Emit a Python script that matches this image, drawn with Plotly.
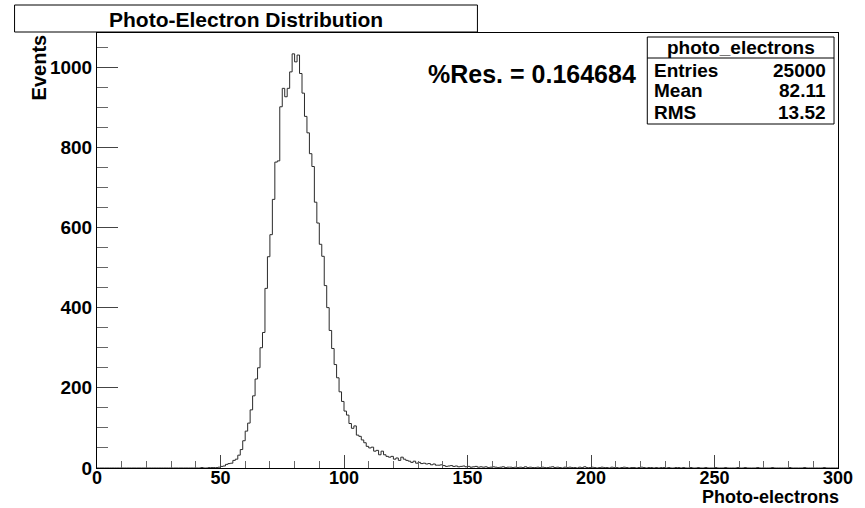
import numpy as np
import plotly.graph_objects as go

# ---- data (300 bins of width 1, from 0 to 300) ----
bin_lo = 0
bin_hi = 300
counts_000_049 = [
    0, 0, 0, 0, 0, 0, 0, 0, 0, 0,
    0, 0, 0, 0, 0, 0, 0, 0, 0, 0,
    0, 0, 0, 0, 0, 0, 0, 0, 0, 0,
    0, 0, 0, 0, 0, 0, 0, 0, 0, 0,
    0, 0, 1, 0, 0, 1, 1, 1, 1, 2,
]
counts_050_099 = [
    4, 5, 9, 11, 12, 19, 22, 32, 46, 68,
    92, 112, 145, 180, 222, 250, 300, 338, 448, 527,
    582, 670, 763, 766, 901, 947, 926, 947, 988, 1033,
    1013, 1030, 984, 935, 877, 836, 784, 752, 663, 611,
    558, 528, 455, 400, 343, 298, 258, 225, 190, 166,
]
counts_100_149 = [
    142, 132, 111, 99, 105, 82, 79, 70, 63, 54,
    50, 52, 42, 44, 33, 42, 33, 29, 27, 29,
    22, 25, 19, 27, 22, 19, 17, 14, 17, 12,
    14, 11, 12, 10, 11, 8, 10, 7, 7, 8,
    6, 4, 5, 6, 4, 5, 3, 4, 5, 3,
]
counts_150_199 = [
    4, 2, 3, 4, 2, 3, 2, 3, 1, 2,
    3, 2, 1, 2, 3, 1, 2, 2, 1, 2,
    1, 2, 1, 3, 1, 2, 1, 1, 2, 1,
    2, 1, 1, 2, 3, 1, 2, 1, 0, 2,
    1, 2, 1, 1, 0, 2, 1, 3, 1, 1,
]
counts_200_249 = [
    2, 1, 0, 1, 2, 1, 1, 0, 2, 1,
    1, 0, 1, 2, 1, 0, 1, 1, 0, 1,
    2, 1, 0, 1, 1, 0, 1, 0, 1, 1,
    0, 1, 0, 0, 1, 1, 0, 1, 0, 0,
    1, 0, 0, 1, 0, 0, 1, 0, 0, 0,
]
counts_250_299 = [
    1, 0, 0, 0, 1, 0, 0, 0, 0, 1,
    0, 0, 1, 0, 0, 0, 0, 1, 0, 0,
    0, 0, 0, 1, 0, 0, 0, 0, 0, 0,
    1, 0, 0, 0, 0, 0, 1, 0, 0, 0,
    0, 0, 0, 0, 1, 0, 0, 0, 0, 0,
]
x_ticks = [0, 50, 100, 150, 200, 250, 300]
y_ticks = [0, 200, 400, 600, 800, 1000]
stats_name = "photo_electrons"
stats_rows = [("Entries", "25000"), ("Mean", "82.11"), ("RMS", "13.52")]
resolution_text = "%Res. = 0.164684"

counts = (counts_000_049 + counts_050_099 + counts_100_149 +
          counts_150_199 + counts_200_249 + counts_250_299)
edges = np.linspace(bin_lo, bin_hi, len(counts) + 1)
ys = counts + [counts[-1]]

# ---- layout geometry (pixels) ----
W, H = 865, 508
L, R, T, B = 97, 843, 33, 468


def px(x):
    return (x - L) / (R - L)


def py(y):
    return (B - y) / (B - T)


FONT = "Liberation Sans, Arial, Helvetica, sans-serif"

fig = go.Figure()
fig.add_trace(go.Scatter(
    x=edges, y=ys, mode="lines", line=dict(color="#2a2a2a", width=1, shape="hv"),
    hoverinfo="skip", showlegend=False))

fig.update_xaxes(
    range=[bin_lo, bin_hi], tickvals=x_ticks, ticks="inside", ticklen=13, tickwidth=1,
    tickcolor="#444", showline=True, linecolor="black", linewidth=1, mirror=True,
    showgrid=False, zeroline=False, ticklabelstandoff=-7,
    tickfont=dict(family=FONT, size=18, color="black", weight="bold"),
    minor=dict(ticks="inside", dtick=10, ticklen=7, tickcolor="#666", showgrid=False),
)
fig.update_yaxes(
    range=[0, 1085], tickvals=y_ticks, ticks="inside", ticklen=21, tickwidth=1,
    tickcolor="#444", showline=True, linecolor="black", linewidth=1, mirror=True,
    showgrid=False, zeroline=False,
    tickfont=dict(family=FONT, size=19, color="black", weight="bold"),
    minor=dict(ticks="inside", dtick=50, ticklen=11, tickcolor="#666", showgrid=False),
)

shapes = [
    # title box
    dict(type="rect", xref="paper", yref="paper", x0=px(14), x1=px(480), y0=py(32), y1=py(5),
         line=dict(color="black", width=1), fillcolor="white", layer="above"),
    # stats box
    dict(type="rect", xref="paper", yref="paper", x0=px(651), x1=px(839), y0=py(124), y1=py(37),
         line=dict(color="black", width=1), fillcolor="white", layer="above"),
    dict(type="line", xref="paper", yref="paper", x0=px(651), x1=px(839), y0=py(58), y1=py(58),
         line=dict(color="black", width=1), layer="above"),
]

ann = [
    dict(text="<b>Photo-Electron Distribution</b>", x=px(247), y=py(19),
         font=dict(family=FONT, size=21, color="black")),
    dict(text="<b>" + resolution_text + "</b>", x=px(535), y=py(74),
         font=dict(family=FONT, size=25, color="black")),
    dict(text="<b>Events</b>", x=px(39), y=py(32), yanchor="top", textangle=-90,
         font=dict(family=FONT, size=20, color="black")),
    dict(text="<b>Photo-electrons</b>", x=px(845), y=py(496.5), xanchor="right", borderpad=0,
         font=dict(family=FONT, size=18, color="black")),
    dict(text="<b>" + stats_name + "</b>", x=px(745), y=py(47),
         font=dict(family=FONT, size=19, color="black")),
]
row_y = [70, 91, 112.5]
for (lab, val), yy in zip(stats_rows, row_y):
    ann.append(dict(text="<b>" + lab + "</b>", x=px(656), y=py(yy), xanchor="left",
                    font=dict(family=FONT, size=19, color="black")))
    ann.append(dict(text="<b>" + val + "</b>", x=px(833), y=py(yy), xanchor="right",
                    font=dict(family=FONT, size=19, color="black")))
for a in ann:
    a.setdefault("xanchor", "center")
    a.setdefault("yanchor", "middle")
    a.update(xref="paper", yref="paper", showarrow=False)

fig.update_layout(
    width=W, height=H, margin=dict(l=L, r=W - R, t=T, b=H - B, pad=0),
    paper_bgcolor="white", plot_bgcolor="white",
    shapes=shapes, annotations=ann, showlegend=False,
)

fig.write_html("out.html")
